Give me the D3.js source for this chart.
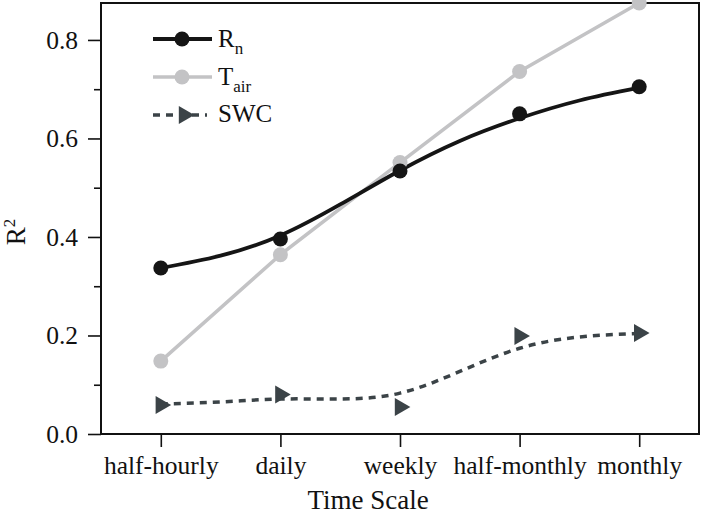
<!DOCTYPE html>
<html><head><meta charset="utf-8">
<script src="https://cdn.jsdelivr.net/npm/d3@7"></script>
<style>
html,body{margin:0;padding:0;background:#fff;}
svg{display:block;font-family:"Liberation Serif","Times New Roman",serif;}
</style></head>
<body>
<svg id="chart" width="702" height="516"></svg>
<script>
// ---- data ----
const categories = ["half-hourly","daily","weekly","half-monthly","monthly"];
const rnValues   = [0.337, 0.396, 0.534, 0.650, 0.705];
const tairValues = [0.148, 0.364, 0.551, 0.736, 0.875];
const swcValues  = [0.059, 0.080, 0.055, 0.199, 0.205];
// fitted smooth curves at half-step positions
const fitSteps   = [0, 0.5, 1, 1.5, 2, 2.5, 3, 3.5, 4];
const rnFit      = [0.337, 0.362, 0.403, 0.466, 0.535, 0.595, 0.641, 0.677, 0.703];
const swcFit     = [0.061, 0.065, 0.071, 0.071, 0.083, 0.127, 0.174, 0.197, 0.204];
const yMajorTicks = [0, 0.2, 0.4, 0.6, 0.8];
const yMinorTicks = [0.1, 0.3, 0.5, 0.7];

const svg = d3.select("#chart");
const L = 101, R = 699, T = 3, B = 434;
const x = d3.scaleLinear().domain([-0.5, 4.5]).range([L, R]);
const y = d3.scaleLinear().domain([0, 0.875]).range([B, T]);

const cRn = "#151515", cTair = "#c3c3c5", cSwc = "#3b4347";
const serif = '"Liberation Serif","Times New Roman",serif';

// axes
const ax = svg.append("g").attr("transform", `translate(0,${B})`)
  .call(d3.axisBottom(x).tickValues(d3.range(categories.length)).tickSize(13).tickPadding(9)
        .tickFormat(i => categories[i]));
const ayMaj = svg.append("g").attr("transform", `translate(${L},0)`)
  .call(d3.axisLeft(y).tickValues(yMajorTicks).tickSize(13).tickPadding(10).tickFormat(d3.format(".1f")));
const ayMin = svg.append("g").attr("transform", `translate(${L},0)`)
  .call(d3.axisLeft(y).tickValues(yMinorTicks).tickSize(7).tickFormat(""));
[ax, ayMaj, ayMin].forEach(g => {
  g.attr("font-family", serif).attr("font-size", 25.5);
  g.select(".domain").remove();
  g.selectAll("line").attr("stroke", "#111").attr("stroke-width", 1.6);
  g.selectAll("text").attr("fill", "#111");
});

// frame
svg.append("rect").attr("x", L).attr("y", T).attr("width", R - L).attr("height", B - T)
  .attr("fill", "none").attr("stroke", "#111").attr("stroke-width", 2);

// axis titles
svg.append("text").attr("x", 368).attr("y", 509).attr("text-anchor", "middle")
  .style("font-size", "27px").attr("fill", "#111").text("Time Scale");
const yl = svg.append("text").attr("transform", "translate(25,232) rotate(-90)")
  .attr("text-anchor", "middle").style("font-size", "27px").attr("fill", "#111");
yl.append("tspan").text("R");
yl.append("tspan").attr("dy", -10).style("font-size", "17px").text("2");

const plot = svg.append("g");

// SWC dashed fitted curve
const fitLine = d3.line().x((d, i) => x(fitSteps[i])).curve(d3.curveNatural);
plot.append("path").datum(swcFit).attr("d", fitLine.y(d => y(d)))
  .attr("fill", "none").attr("stroke", cSwc).attr("stroke-width", 3.5).attr("stroke-dasharray", "7,6");

// Tair polyline
plot.append("path").datum(tairValues)
  .attr("d", d3.line().x((d, i) => x(i)).y(d => y(d)))
  .attr("fill", "none").attr("stroke", cTair).attr("stroke-width", 3.5);

// Rn fitted curve
plot.append("path").datum(rnFit).attr("d", fitLine.y(d => y(d)))
  .attr("fill", "none").attr("stroke", cRn).attr("stroke-width", 3.8);

// markers
const tri = d3.symbol().type(d3.symbolTriangle).size(140);
plot.selectAll(".swc").data(swcValues).join("path").attr("class", "swc")
  .attr("d", tri).attr("fill", cSwc)
  .attr("transform", (d, i) => `translate(${x(i)},${y(d)}) rotate(90)`);
plot.selectAll(".tair").data(tairValues).join("circle").attr("class", "tair")
  .attr("cx", (d, i) => x(i)).attr("cy", d => y(d)).attr("r", 7.5).attr("fill", cTair);
plot.selectAll(".rn").data(rnValues).join("circle").attr("class", "rn")
  .attr("cx", (d, i) => x(i)).attr("cy", d => y(d)).attr("r", 7.5).attr("fill", cRn);

// legend
const lg = svg.append("g");
const lx0 = 153, lx1 = 212, lxm = 182, ltx = 218;
lg.append("line").attr("x1", lx0).attr("x2", lx1).attr("y1", 39).attr("y2", 39).attr("stroke", cRn).attr("stroke-width", 3.8);
lg.append("circle").attr("cx", lxm).attr("cy", 39).attr("r", 7.5).attr("fill", cRn);
const t1 = lg.append("text").attr("x", ltx).attr("y", 47).style("font-size", "25px").attr("fill", "#111");
t1.append("tspan").text("R"); t1.append("tspan").attr("dy", 7).style("font-size", "17px").text("n");

lg.append("line").attr("x1", lx0).attr("x2", lx1).attr("y1", 77).attr("y2", 77).attr("stroke", cTair).attr("stroke-width", 3.5);
lg.append("circle").attr("cx", lxm).attr("cy", 77).attr("r", 7.5).attr("fill", cTair);
const t2 = lg.append("text").attr("x", ltx).attr("y", 85).style("font-size", "25px").attr("fill", "#111");
t2.append("tspan").text("T"); t2.append("tspan").attr("dy", 7).style("font-size", "17px").text("air");

lg.append("line").attr("x1", lx0).attr("x2", 207).attr("y1", 115).attr("y2", 115).attr("stroke", cSwc)
  .attr("stroke-width", 3.5).attr("stroke-dasharray", "7,6");
lg.append("path").attr("d", tri).attr("fill", cSwc).attr("transform", `translate(${184},115) rotate(90)`);
lg.append("text").attr("x", ltx).attr("y", 122).style("font-size", "25px").attr("fill", "#111").text("SWC");
</script>
</body></html>
